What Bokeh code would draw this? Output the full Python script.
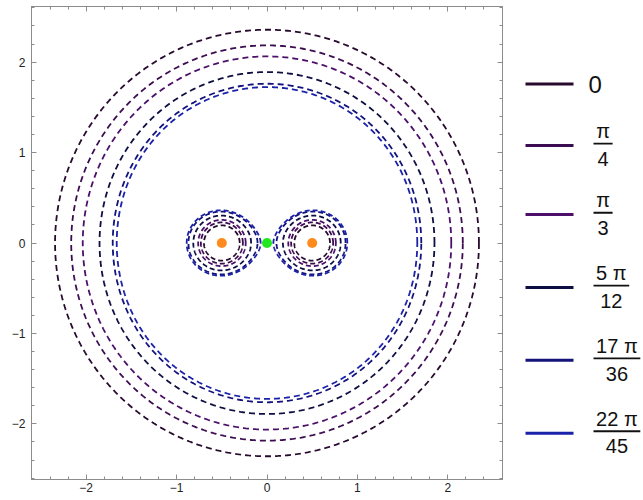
import numpy as np
from bokeh.plotting import figure
from bokeh.layouts import row
from bokeh.models import Range1d, LinearAxis, FixedTicker
from bokeh.embed import file_html
from bokeh.resources import INLINE
from bokeh.core.properties import value

# Zero-velocity curves of the equal-mass restricted three-body problem,
# one Jacobi level per angle parameter.
angle_num = ["0", "π", "π", "5 π", "17 π", "22 π"]
angle_den = ["", "4", "3", "12", "36", "45"]
levels = [3.195, 2.833, 2.599, 2.298, 2.097, 2.043]
colors = ["#270a2e", "#3b0d50", "#4c106a", "#0e0e42", "#13137a", "#1a22aa"]

# primaries (equal masses) and the collinear point between them
mass_x = [-0.5, 0.5]
mass_y = [0.0, 0.0]
mass_m = [0.5, 0.5]
l1_x = [0.0]
l1_y = [0.0]

FONT = "Liberation Sans"


def omega(x, y):
    val = 0.5 * (x ** 2 + y ** 2)
    for mx, my, m in zip(mass_x, mass_y, mass_m):
        val = val + m / np.hypot(x - mx, y - my)
    return val


def outer_curve(level, n=721):
    phi = np.linspace(0, 2 * np.pi, n)
    lo = np.full(n, 1.3)
    hi = np.full(n, 4.0)
    for _ in range(60):
        mid = 0.5 * (lo + hi)
        below = omega(mid * np.cos(phi), mid * np.sin(phi)) < level
        lo = np.where(below, mid, lo)
        hi = np.where(below, hi, mid)
    r = 0.5 * (lo + hi)
    return r * np.cos(phi), r * np.sin(phi)


def inner_loop(level, cx, cy, n=361):
    psi = np.linspace(0, 2 * np.pi, n)
    lo = np.full(n, 0.003)
    hi = np.full(n, 0.5)
    for _ in range(60):
        mid = 0.5 * (lo + hi)
        above = omega(cx + mid * np.cos(psi), cy + mid * np.sin(psi)) > level
        lo = np.where(above, mid, lo)
        hi = np.where(above, hi, mid)
    d = 0.5 * (lo + hi)
    return cx + d * np.cos(psi), cy + d * np.sin(psi)


p = figure(width=508, height=500,
           x_range=Range1d(-2.605, 2.605), y_range=Range1d(-2.615, 2.615),
           output_backend="svg", toolbar_location=None,
           min_border_left=31, min_border_right=6,
           min_border_top=6, min_border_bottom=21)
p.grid.visible = False
p.background_fill_color = "white"
p.outline_line_color = "#8c8c8c"
p.add_layout(LinearAxis(), "above")
p.add_layout(LinearAxis(), "right")

major = [-2, -1, 0, 1, 2]
minor = [round(v, 1) for v in np.arange(-2.6, 2.61, 0.2)]
for ax in p.axis:
    ax.ticker = FixedTicker(ticks=major, minor_ticks=minor)
    ax.axis_line_color = "#8c8c8c"
    ax.major_tick_line_color = "#8c8c8c"
    ax.minor_tick_line_color = "#8c8c8c"
    ax.major_tick_in = 5
    ax.major_tick_out = 0
    ax.minor_tick_in = 3
    ax.minor_tick_out = 0
    ax.major_label_text_font = FONT
    ax.major_label_text_font_size = "12px"
    ax.major_label_text_color = "#222222"
    ax.major_label_overrides = {-2: "\u22122", -1: "\u22121"}
# the frame's top and right edges carry ticks only
for ax in p.above + p.right:
    ax.major_label_overrides = {t: "" for t in major}
    ax.major_label_standoff = 0
p.below[0].major_label_standoff = 3
p.left[0].major_label_standoff = 6

for lev, col in zip(levels, colors):
    xs, ys = outer_curve(lev)
    p.line(xs, ys, line_color=col, line_width=1.8, line_dash="6 4")
    for mx, my in zip(mass_x, mass_y):
        xi, yi = inner_loop(lev, mx, my)
        p.line(xi, yi, line_color=col, line_width=1.8, line_dash="5 3")

p.scatter(mass_x, mass_y, size=10, fill_color="#ff8a1e", line_color=None)
p.scatter(l1_x, l1_y, size=10, fill_color="#22e822", line_color=None)

# legend panel, laid out in pixel coordinates measured from its top-left
LW = 643 - 508
leg = figure(width=LW, height=500, x_range=Range1d(0, LW), y_range=Range1d(500, 0),
             output_backend="svg", toolbar_location=None, min_border=0)
leg.axis.visible = False
leg.grid.visible = False
leg.outline_line_color = None

row_y = [82, 147, 220, 297, 374, 451]
leg.segment(x0=[17] * 6, y0=row_y, x1=[65] * 6, y1=row_y,
            line_color=colors, line_width=3)


def text_width(s):
    w = 0.0
    for ch in s:
        w += 5.5 if ch == " " else 11.1
    return w


for num, den, y in zip(angle_num, angle_den, row_y):
    if den == "":
        leg.text(x=[80], y=[y], text=[num], text_font=value(FONT),
                 text_font_size="24px", text_color="#111111",
                 text_align="left", text_baseline="middle")
        continue
    bw = max(text_width(num), text_width(den)) + 8
    x0 = 85
    xc = x0 + bw / 2
    bar_y = y - 2
    leg.segment(x0=[x0], y0=[bar_y], x1=[x0 + bw], y1=[bar_y],
                line_color="#111111", line_width=1.8)
    leg.text(x=[xc], y=[bar_y - 13], text=[num], text_font=value(FONT),
             text_font_size="20px", text_color="#111111",
             text_align="center", text_baseline="middle")
    leg.text(x=[xc], y=[bar_y + 16], text=[den], text_font=value(FONT),
             text_font_size="20px", text_color="#111111",
             text_align="center", text_baseline="middle")

layout = row(p, leg)
open("out.html", "w").write(file_html(layout, INLINE))
